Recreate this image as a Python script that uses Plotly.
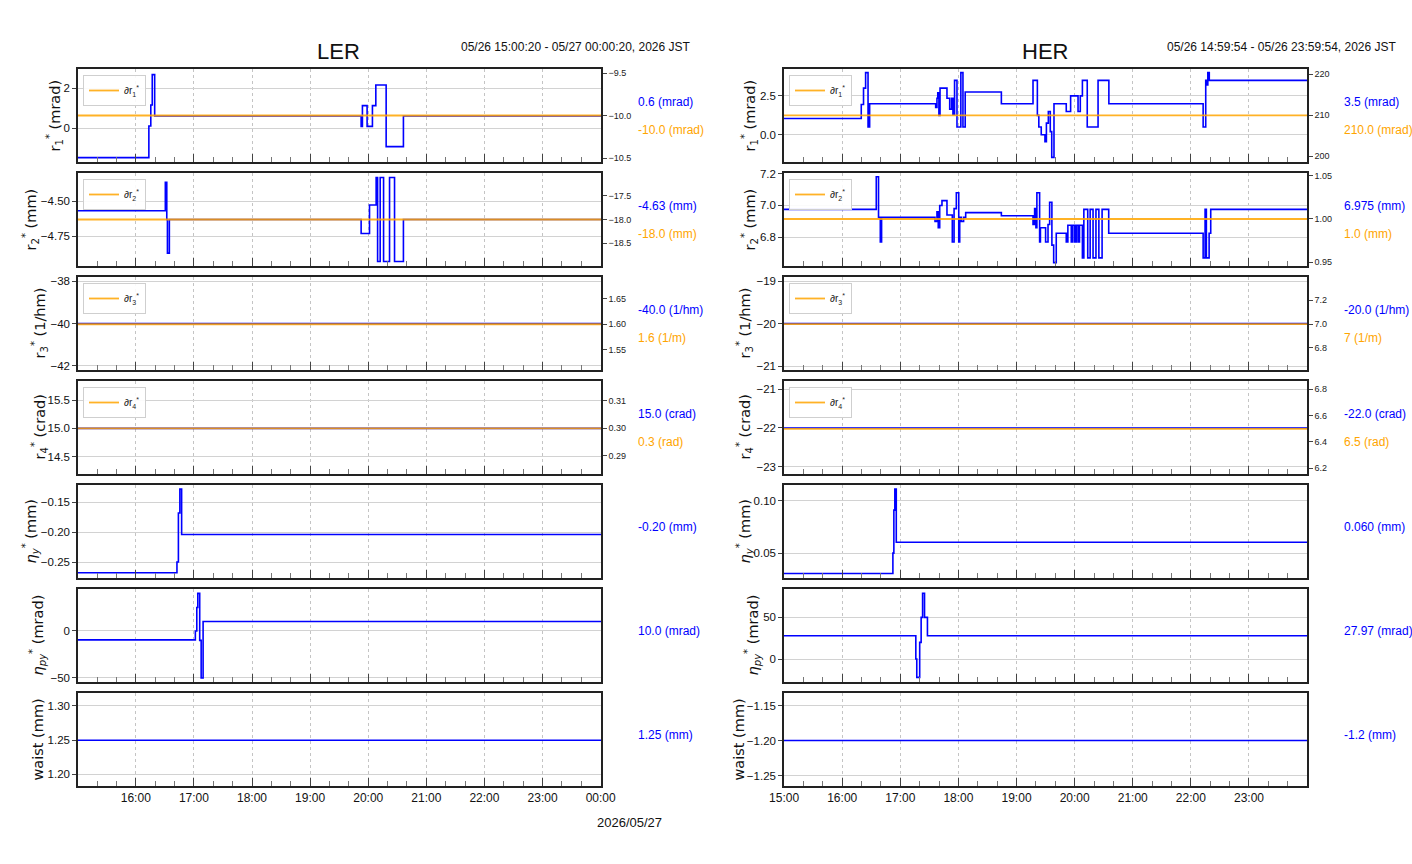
import plotly.graph_objects as go

# ---------------- data ----------------
LER_R1_T = ["15:00:20", "16:13:30", "16:15:30", "16:17:00", "16:19:30", "19:52:40", "19:54:00",
            "19:58:50", "20:04:20", "20:07:50", "20:18:30", "20:36:20", "00:00:20"]
LER_R1_V = [-1.48, 0.1, 1.15, 2.67, 0.6, 0.08, 1.12, 0.08, 1.12, 2.15, -0.93, 0.6, 0.6]

LER_R2_T = ["15:00:20", "16:30:30", "16:32:00", "16:32:40", "16:34:40", "19:52:40", "20:01:20",
            "20:08:10", "20:09:40", "20:12:20", "20:15:50", "20:22:00", "20:27:10", "20:36:20", "00:00:20"]
LER_R2_V = [-4.567, -4.364, -4.63, -4.87, -4.63, -4.73, -4.526, -4.33, -4.93, -4.33, -4.93, -4.33,
            -4.93, -4.63, -4.63]

LER_R3_T = ["15:00:20", "00:00:20"]
LER_R3_V = [-40.0, -40.0]
LER_R4_T = ["15:00:20", "00:00:20"]
LER_R4_V = [15.0, 15.0]

LER_ETAY_T = ["15:00:20", "16:42:30", "16:44:00", "16:45:30", "16:47:20", "00:00:20"]
LER_ETAY_V = [-0.268, -0.25, -0.168, -0.128, -0.204, -0.204]

LER_ETAPY_T = ["15:00:20", "17:01:30", "17:03:00", "17:04:00", "17:06:00", "17:07:30", "17:09:30", "00:00:20"]
LER_ETAPY_V = [-9.5, 0.0, 25.0, 40.0, -10.0, -50.0, 10.0, 10.0]

LER_WAIST_T = ["15:00:20", "00:00:20"]
LER_WAIST_V = [1.25, 1.25]

LER_SET = [-10.0, -18.0, 1.6, 0.3]          # orange set values (right axes)

HER_R1_T = ["14:59:54", "16:19:40", "16:22:00", "16:24:10", "16:26:40", "16:28:20", "17:36:30",
            "17:37:50", "17:38:40", "17:39:50", "17:41:00", "17:48:10", "17:51:00", "17:53:00",
            "17:54:20", "17:56:00", "17:58:30", "18:02:30", "18:04:40", "18:07:00", "18:44:20",
            "19:17:00", "19:21:30", "19:23:00", "19:25:30", "19:29:20", "19:30:50", "19:32:50",
            "19:34:50", "19:36:20", "19:38:40", "19:51:20", "19:55:50", "20:03:30", "20:05:50",
            "20:08:00", "20:13:00", "20:24:10", "20:35:20", "22:12:40", "22:15:20", "22:16:40",
            "22:17:30", "22:19:00", "23:59:54"]
HER_R1_V = [1.05, 1.95, 3.0, 4.0, 0.5, 2.0, 1.75,
            2.35, 2.7, 1.25, 3.0, 2.35, 1.65, 2.35,
            1.3, 3.5, 0.5, 4.0, 0.5, 2.75, 2.0,
            3.5, 1.25, 0.5, 0.0, -0.45, 0.75, 1.5,
            0.2, -1.45, 2.0, 1.5, 2.5, 1.5, 2.5,
            3.5, 0.5, 3.5, 2.0, 0.5, 3.5, 3.2,
            4.0, 3.5, 3.5]

HER_R2_T = ["14:59:54", "16:35:10", "16:37:30", "16:39:20", "16:40:40", "17:35:50", "17:37:50",
            "17:39:10", "17:40:40", "17:43:00", "17:48:10", "17:53:40", "17:55:30", "17:57:50",
            "18:00:20", "18:01:20", "18:03:00", "18:05:20", "18:07:30", "18:44:20", "19:17:00",
            "19:18:40", "19:20:00", "19:21:00", "19:23:50", "19:24:40", "19:30:00", "19:32:30",
            "19:34:10", "19:36:30", "19:38:20", "19:41:00", "19:51:20", "19:53:00", "19:56:30",
            "19:58:00", "20:00:00", "20:01:40", "20:03:30", "20:05:00", "20:08:00", "20:09:30",
            "20:13:30", "20:16:00", "20:19:00", "20:22:00", "20:25:00", "20:28:20", "20:35:10",
            "22:12:40", "22:14:40", "22:16:00", "22:18:50", "22:20:30", "23:59:54"]
HER_R2_V = [6.975, 7.18, 6.925, 6.77, 6.925, 6.90, 6.96,
            6.86, 7.0, 7.03, 6.94, 6.77, 6.98, 7.08,
            6.77, 6.925, 6.90, 6.925, 6.955, 6.935, 6.88,
            6.98, 6.86, 7.08, 6.77, 6.86, 6.77, 6.88,
            7.02, 6.75, 6.64, 6.825, 6.77, 6.875, 6.77,
            6.875, 6.77, 6.875, 6.77, 6.875, 6.67, 6.975,
            6.67, 6.975, 6.67, 6.975, 6.67, 6.975, 6.825,
            6.67, 6.975, 6.67, 6.825, 6.975, 6.975]

HER_R3_T = ["14:59:54", "23:59:54"]
HER_R3_V = [-20.0, -20.0]
HER_R4_T = ["14:59:54", "23:59:54"]
HER_R4_V = [-22.0, -22.0]

HER_ETAY_T = ["14:59:54", "16:52:20", "16:53:20", "16:54:20", "16:55:50", "23:59:54"]
HER_ETAY_V = [0.0306, 0.05, 0.091, 0.111, 0.0604, 0.0604]

HER_ETAPY_T = ["14:59:54", "17:16:00", "17:17:00", "17:20:00", "17:21:30", "17:23:00", "17:25:00",
               "17:28:00", "23:59:54"]
HER_ETAPY_V = [27.97, 0.0, -22.0, 20.0, 50.0, 79.0, 50.0, 27.97, 27.97]

HER_WAIST_T = ["14:59:54", "23:59:54"]
HER_WAIST_V = [-1.2, -1.2]

HER_SET = [210.0, 1.0, 7.0, 6.5]

LER_BLUE_LABELS = ["0.6 (mrad)", "-4.63 (mm)", "-40.0 (1/hm)", "15.0 (crad)", "-0.20 (mm)",
                   "10.0 (mrad)", "1.25 (mm)"]
LER_ORANGE_LABELS = ["-10.0 (mrad)", "-18.0 (mm)", "1.6 (1/m)", "0.3 (rad)"]
HER_BLUE_LABELS = ["3.5 (mrad)", "6.975 (mm)", "-20.0 (1/hm)", "-22.0 (crad)", "0.060 (mm)",
                   "27.97 (mrad)", "-1.2 (mm)"]
HER_ORANGE_LABELS = ["210.0 (mrad)", "1.0 (mm)", "7 (1/m)", "6.5 (rad)"]

Y_TITLES = ["r<sub>1</sub><sup>*</sup> (mrad)", "r<sub>2</sub><sup>*</sup> (mm)",
            "r<sub>3</sub><sup>*</sup> (1/hm)", "r<sub>4</sub><sup>*</sup> (crad)",
            "<i>η</i><sub><i>y</i></sub><sup>*</sup> (mm)", "<i>η</i><sub><i>py</i></sub><sup>*</sup> (mrad)",
            "waist (mm)"]
LEGEND_NAMES = ["∂r<sub>1</sub><sup>*</sup>", "∂r<sub>2</sub><sup>*</sup>",
                "∂r<sub>3</sub><sup>*</sup>", "∂r<sub>4</sub><sup>*</sup>"]

# ---------------- styling / layout ----------------
W, H = 1412, 864
BLUE = "#0000ff"
ORANGE = "#ffa500"
NARROW = "Liberation Sans, Arial, sans-serif"
WIDE = "DejaVu Sans, Verdana, sans-serif"

ROWS = [(69, 162), (173, 266), (277, 370), (381, 474), (485, 578), (589, 682), (693, 786)]
COLS = [(78, 601), (784, 1307)]
TITLE_X = [[54, 30, 39, 39, 30, 37, 37], [749, 749, 744, 744, 744, 752, 738]]


def stamp(t):
    day = "2026-05-27" if int(t[:2]) < 12 else "2026-05-26"
    return f"{day} {t}"


def px(x):
    return x / W


def py(y):
    return 1 - y / H


def note(x, y, text, size, color, family=NARROW, xanchor="center", angle=0):
    return dict(x=px(x), y=py(y), xref="paper", yref="paper", text=text, showarrow=False,
                xanchor=xanchor, yanchor="middle", textangle=angle,
                font=dict(family=family, size=size, color=color))


columns = [
    dict(name="LER", xr=[stamp("15:00:20"), stamp("00:00:20")],
         series=[(LER_R1_T, LER_R1_V), (LER_R2_T, LER_R2_V), (LER_R3_T, LER_R3_V), (LER_R4_T, LER_R4_V),
                 (LER_ETAY_T, LER_ETAY_V), (LER_ETAPY_T, LER_ETAPY_V), (LER_WAIST_T, LER_WAIST_V)],
         sets=LER_SET, blue=LER_BLUE_LABELS, orange=LER_ORANGE_LABELS,
         yr=[[-1.7, 2.95], [-4.962, -4.298], [-42.19, -37.8], [14.195, 15.835],
             [-0.2767, -0.1212], [-54.3, 44.6], [1.183, 1.319]],
         ydt=[2, 0.25, 2, 0.5, 0.05, 50, 0.05],
         yfmt=["d", ".2f", "d", ".1f", ".2f", "d", ".2f"],
         rr=[[-10.547, -9.453], [-18.98, -17.02], [1.511, 1.692], [0.2833, 0.3173]],
         rdt=[0.5, 0.5, 0.05, 0.01], rfmt=[".1f", ".1f", ".2f", ".2f"],
         rng_text="05/26 15:00:20 - 05/27 00:00:20, 2026 JST"),
    dict(name="HER", xr=[stamp("14:59:54"), stamp("23:59:54")],
         series=[(HER_R1_T, HER_R1_V), (HER_R2_T, HER_R2_V), (HER_R3_T, HER_R3_V), (HER_R4_T, HER_R4_V),
                 (HER_ETAY_T, HER_ETAY_V), (HER_ETAPY_T, HER_ETAPY_V), (HER_WAIST_T, HER_WAIST_V)],
         sets=HER_SET, blue=HER_BLUE_LABELS, orange=HER_ORANGE_LABELS,
         yr=[[-1.75, 4.23], [6.619, 7.204], [-21.094, -18.9], [-23.19, -20.786],
             [0.0263, 0.1149], [-27.6, 84.1], [-1.265, -1.132]],
         ydt=[2.5, 0.2, 1, 1, 0.05, 50, 0.05],
         yfmt=[".1f", ".1f", "d", "d", ".2f", "d", ".2f"],
         rr=[[198.6, 221.3], [0.9457, 1.0531], [6.613, 7.396], [6.157, 6.863]],
         rdt=[10, 0.05, 0.2, 0.2], rfmt=["d", ".2f", ".1f", ".1f"],
         rng_text="05/26 14:59:54 - 05/26 23:59:54, 2026 JST"),
]

fig = go.Figure()
layout = dict(width=W, height=H, margin=dict(l=0, r=0, t=0, b=0, autoexpand=False),
              paper_bgcolor="white", plot_bgcolor="white", showlegend=True,
              font=dict(family=NARROW, size=12, color="#222"))
annotations = []
sec_idx = 14
leg_idx = 0

for c, col in enumerate(columns):
    x0, x1 = COLS[c]
    for r in range(7):
        k = c * 7 + r + 1
        top, bot = ROWS[r]
        xa = f"xaxis{k}"
        ya = f"yaxis{k}"
        xs = "x" if k == 1 else f"x{k}"
        ys = "y" if k == 1 else f"y{k}"
        ts, vs = col["series"][r]
        fig.add_trace(go.Scatter(x=[stamp(t) for t in ts], y=vs, mode="lines", line_shape="hv",
                                 line=dict(color=BLUE, width=1.6), xaxis=xs, yaxis=ys,
                                 showlegend=False, hoverinfo="skip"))
        layout[xa] = dict(domain=[px(x0), px(x1)], anchor=ys, type="date", range=col["xr"],
                          tickformat="%H:%M", dtick=3600000, tick0="2026-05-26 00:00:00",
                          ticks="inside", ticklen=8, tickwidth=1.2, tickcolor="#444",
                          showticklabels=(r == 6), tickfont=dict(family=NARROW, size=12, color="#111"),
                          showgrid=True, gridcolor="#c4c4c4", griddash="dot", gridwidth=1,
                          minor=dict(dtick=1200000, tick0="2026-05-26 00:00:00", ticks="inside",
                                     ticklen=5, tickcolor="#777", tickwidth=1, showgrid=False),
                          showline=True, linecolor="#222", linewidth=1.5, mirror=True,
                          zeroline=False, fixedrange=True, automargin=False)
        layout[ya] = dict(domain=[py(bot), py(top)], anchor=xs, range=col["yr"][r],
                          dtick=col["ydt"][r], tick0=0, tickformat=col["yfmt"][r],
                          ticks="outside", ticklen=4, tickcolor="#444",
                          tickfont=dict(family=NARROW, size=11.5, color="#111"),
                          showgrid=True, gridcolor="#d2d2d2", gridwidth=1,
                          showline=True, linecolor="#222", linewidth=1.5, mirror=True,
                          zeroline=False, fixedrange=True, automargin=False)
        mid = (top + bot) / 2
        annotations.append(note(TITLE_X[c][r], mid, Y_TITLES[r], 14.5, "#111", family=WIDE, angle=-90))
        tx = x1 + 35
        if r < 4:
            sec_idx += 1
            leg_idx += 1
            sa = f"yaxis{sec_idx}"
            ss = f"y{sec_idx}"
            lname = "legend" if leg_idx == 1 else f"legend{leg_idx}"
            fig.add_trace(go.Scatter(x=col["xr"], y=[col["sets"][r]] * 2, mode="lines",
                                     line=dict(color=ORANGE, width=1.8), opacity=0.85,
                                     xaxis=xs, yaxis=ss, name=LEGEND_NAMES[r], legend=lname,
                                     showlegend=True, hoverinfo="skip"))
            layout[sa] = dict(overlaying=ys, side="right", anchor=xs, range=col["rr"][r],
                              dtick=col["rdt"][r], tick0=0, tickformat=col["rfmt"][r],
                              ticks="outside", ticklen=4, tickcolor="#444",
                              tickfont=dict(family=NARROW, size=9, color="#222"),
                              showgrid=False, zeroline=False, showline=True, linecolor="#222",
                              linewidth=1.5, fixedrange=True, automargin=False)
            layout[lname] = dict(x=px(x0 + 5), y=py(top + 6), xanchor="left", yanchor="top",
                                 bgcolor="rgba(255,255,255,0.9)", bordercolor="#cfcfcf", borderwidth=1,
                                 font=dict(family=NARROW, size=10, color="#222"),
                                 itemwidth=30, tracegroupgap=0)
            annotations.append(note(tx, mid - 14, col["blue"][r], 12, BLUE, xanchor="left"))
            annotations.append(note(tx, mid + 14, col["orange"][r], 12, ORANGE, xanchor="left"))
        else:
            annotations.append(note(tx, mid - 5, col["blue"][r], 12, BLUE, xanchor="left"))
    # titles
    annotations.append(note((x0 + x1) / 2 - 1, 51, col["name"], 22, "#111"))
    annotations.append(note(x1 + 92, 47, col["rng_text"], 12, "#111", xanchor="right"))

annotations.append(note(629, 822, "2026/05/27", 13, "#111"))

layout["annotations"] = annotations
fig.update_layout(**layout)
fig.write_html("out.html")
